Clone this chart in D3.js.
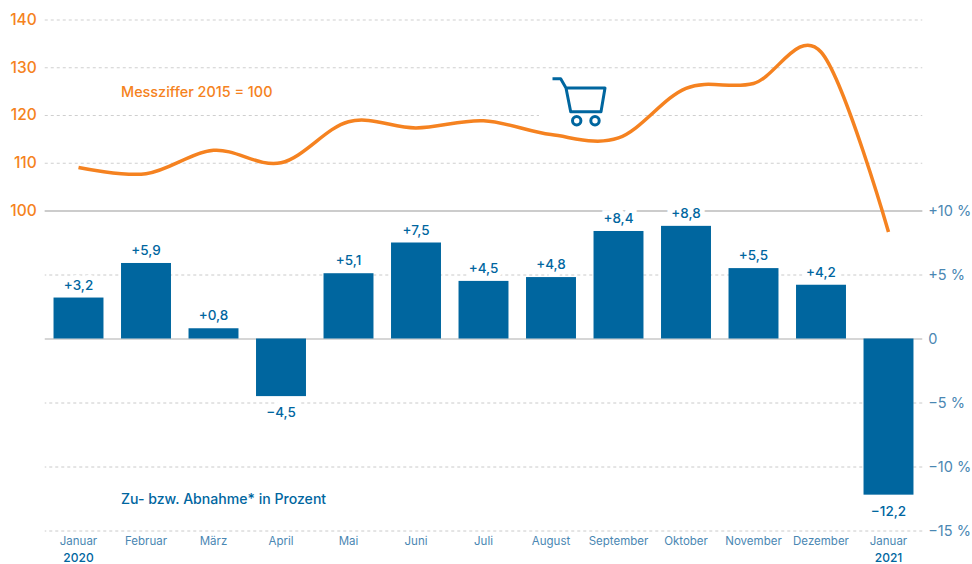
<!DOCTYPE html>
<html lang="de">
<head>
<meta charset="utf-8">
<script src="https://cdn.jsdelivr.net/npm/d3@7"></script>
<style>
    html, body { margin: 0; background: #fff; }
    svg { display: block; }
    svg text { font-family: Inter, sans-serif; }
    .domain { display: none; }
</style>
</head>
<body>
<div id="chart"></div>
<script>
const months = ["Januar", "Februar", "März", "April", "Mai", "Juni", "Juli", "August",
    "September", "Oktober", "November", "Dezember", "Januar "];
const changeValues = [3.2, 5.9, 0.8, -4.5, 5.1, 7.5, 4.5, 4.8, 8.4, 8.8, 5.5, 4.2, -12.2];
const indexValues = [109, 107.7, 112.6, 110, 118.6, 117.3, 118.8, 115.9, 115.2, 125.6, 126.6, 133.2, 95.5];
const indexTicks = [100, 110, 120, 130, 140];
const changeTicks = [-15, -10, -5, 0, 5, 10];
const yearLabels = [["Januar", "2020"], ["Januar ", "2021"]];

const orange = "#F58220", blue = "#00669F", tickBlue = "#4A87B3", grid = "#C9C9C9";
const width = 972, height = 564;
const left = 44.75, right = 922.25;

const svg = d3.select("#chart").append("svg").attr("width", width).attr("height", height);

const x = d3.scaleBand().domain(months).range([left, right]).paddingInner(0.26).paddingOuter(0.13);
const yIndex = d3.scaleLinear().domain([100, 140]).range([210.5, 19.5]);
const yChange = d3.scaleLinear().domain([-15, 10]).range([530.5, 210.5]);

const formatChange = d => {
    if (d === 0) return "0";
    return (d > 0 ? "+" : "\u2212") + Math.abs(d) + " %";
};
const formatValue = d => (d > 0 ? "+" : "\u2212") + Math.abs(d).toFixed(1).replace(".", ",");

// Index axis, the ticks double as gridlines
const indexAxis = svg.append("g").attr("transform", `translate(${left},0)`)
    .call(d3.axisLeft(yIndex).tickValues(indexTicks).tickSize(0).tickPadding(8));
indexAxis.selectAll("text").attr("fill", orange).style("font-size", "15.5px").style("font-weight", 500);
indexAxis.selectAll(".tick line")
    .attr("x2", right - left)
    .attr("stroke", d => d === 100 ? grid : "#CFCFCF")
    .attr("stroke-width", d => d === 100 ? 1.5 : 1)
    .attr("stroke-dasharray", d => d === 100 ? null : "3 3");

// Percent axis on the right
const changeAxis = svg.append("g").attr("transform", `translate(${right},0)`)
    .call(d3.axisRight(yChange).tickValues(changeTicks).tickSize(0).tickPadding(6).tickFormat(formatChange));
changeAxis.selectAll("text").attr("fill", tickBlue).style("font-size", "14.5px");
changeAxis.selectAll(".tick line")
    .attr("x2", left - right)
    .attr("stroke", d => d === 0 || d === 10 ? grid : "#BDBDBD")
    .attr("stroke-width", d => d === 0 || d === 10 ? 1.5 : 0.8)
    .attr("stroke-dasharray", d => d === 0 || d === 10 ? null : "3 3");

// Month labels
const monthAxis = svg.append("g").attr("transform", "translate(0,535)")
    .call(d3.axisBottom(x).tickSize(0).tickPadding(0));
monthAxis.selectAll("text").attr("fill", tickBlue).style("font-size", "11.5px").attr("dy", "0.9em");

svg.selectAll(".year").data(yearLabels).enter().append("text")
    .attr("class", "year")
    .attr("x", d => x(d[0]) + x.bandwidth() / 2)
    .attr("y", 561.5)
    .attr("text-anchor", "middle")
    .attr("fill", blue)
    .style("font-size", "12px")
    .style("font-weight", 500)
    .text(d => d[1]);

// Knock-out behind the cart
svg.append("rect").attr("x", 539).attr("y", 110).attr("width", 79).attr("height", 12).attr("fill", "#fff");

// Value labels with a white halo that breaks the gridlines, under the bars
svg.selectAll(".value").data(changeValues).enter().append("text")
    .attr("class", "value")
    .attr("x", (d, i) => x(months[i]) + x.bandwidth() / 2)
    .attr("y", d => d > 0 ? yChange(d) - 8 : yChange(d) + 21)
    .attr("text-anchor", "middle")
    .attr("fill", blue)
    .attr("stroke", "#fff")
    .attr("stroke-width", 10)
    .attr("paint-order", "stroke")
    .style("font-size", "13.5px")
    .style("font-weight", 500)
    .text(formatValue);

// Bars
svg.selectAll(".bar").data(changeValues).enter().append("rect")
    .attr("class", "bar")
    .attr("x", (d, i) => x(months[i]))
    .attr("y", d => yChange(Math.max(d, 0)))
    .attr("width", x.bandwidth())
    .attr("height", d => Math.abs(yChange(d) - yChange(0)))
    .attr("fill", blue);

// Index line
const line = d3.line()
    .x((d, i) => x(months[i]) + x.bandwidth() / 2)
    .y(d => yIndex(d))
    .curve(d3.curveCatmullRom.alpha(0));

svg.append("path").datum(indexValues)
    .attr("d", line)
    .attr("fill", "none")
    .attr("stroke", orange)
    .attr("stroke-width", 3.5);

// Series captions
svg.append("text").attr("x", 121).attr("y", 96.5).attr("fill", orange)
    .style("font-size", "14.4px").style("font-weight", 500).text("Messziffer 2015 = 100");
svg.append("text").attr("x", 121).attr("y", 504).attr("fill", blue)
    .style("font-size", "14.1px").style("font-weight", 500).text("Zu- bzw. Abnahme* in Prozent");

// Shopping cart icon
const cart = svg.append("g").attr("fill", "none").attr("stroke", blue).attr("stroke-width", 3);
cart.append("path")
    .attr("d", "M552.5,78.7H560.7L566,88H605L601,111.7H570.7L566,88")
    .attr("stroke-linejoin", "round");
cart.selectAll("circle").data([576.7, 595]).enter().append("circle")
    .attr("cx", d => d).attr("cy", 120.7).attr("r", 4.2);
</script>
</body>
</html>
